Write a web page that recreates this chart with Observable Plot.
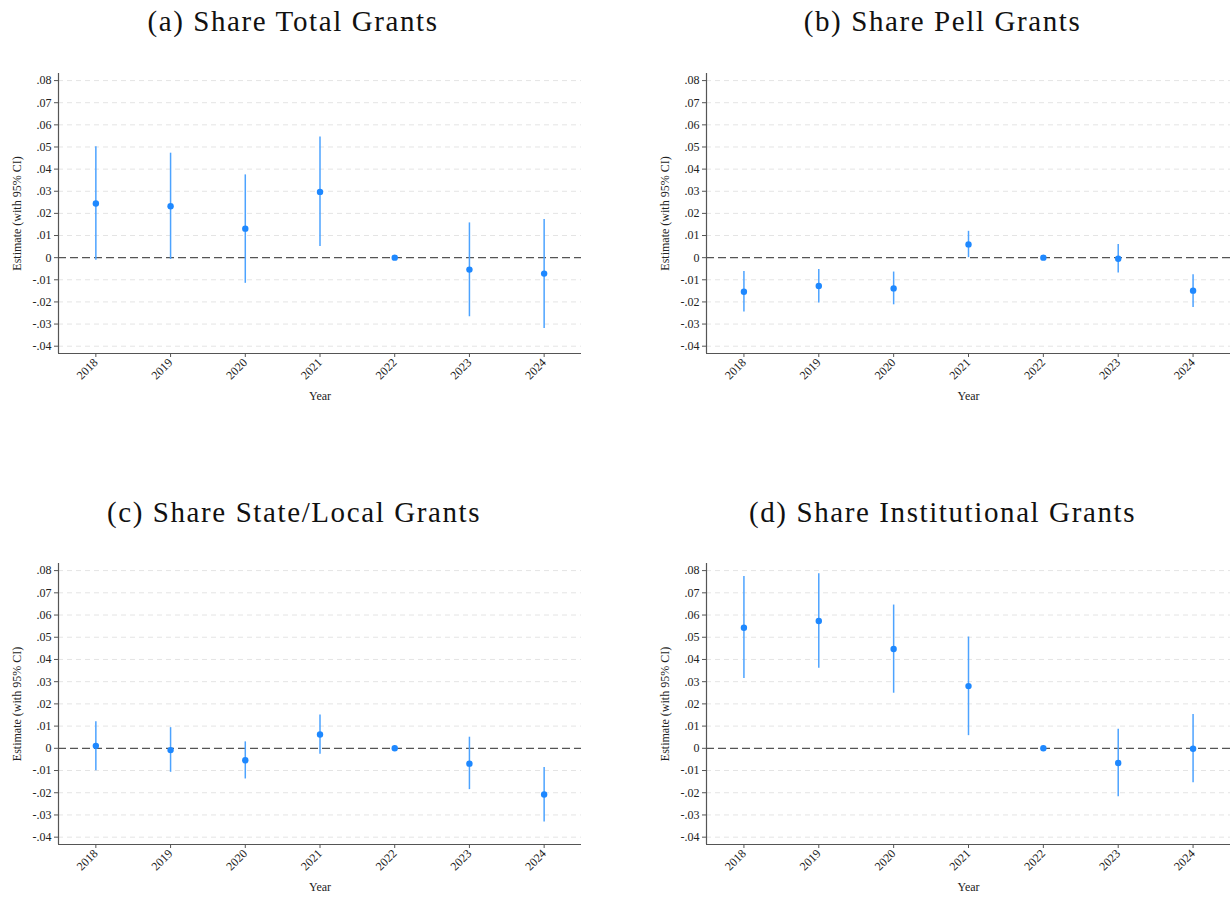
<!DOCTYPE html>
<html>
<head>
<meta charset="utf-8">
<script src="https://cdn.jsdelivr.net/npm/d3@7"></script>
<script src="https://cdn.jsdelivr.net/npm/@observablehq/plot@0.6"></script>
<style>
  html, body { margin: 0; padding: 0; background: #fff; }
  #root { position: relative; width: 1231px; height: 899px; overflow: hidden; background: #fff; }
  .panel { position: absolute; }
  .title { position: absolute; transform: translateX(-50%); white-space: nowrap;
           font-family: "Liberation Serif", serif; font-size: 29px; letter-spacing: 1.6px; color: #111; line-height: 1; }
</style>
</head>
<body>
<div id="root"></div>
<script>
// ---- data ----
const years = [2018, 2019, 2020, 2021, 2022, 2023, 2024];
const yTicks = [-0.04, -0.03, -0.02, -0.01, 0, 0.01, 0.02, 0.03, 0.04, 0.05, 0.06, 0.07, 0.08];
const yTickLabels = ["-.04", "-.03", "-.02", "-.01", "0", ".01", ".02", ".03", ".04", ".05", ".06", ".07", ".08"];
const panelTitles = ["(a) Share Total Grants", "(b) Share Pell Grants", "(c) Share State/Local Grants", "(d) Share Institutional Grants"];

const totalEst = [0.0245, 0.0232, 0.0131, 0.0297, 0, -0.0054, -0.0072];
const totalLo  = [-0.0012, -0.0008, -0.0116, 0.0050, null, -0.0267, -0.0320];
const totalHi  = [0.0501, 0.0472, 0.0374, 0.0545, null, 0.0157, 0.0172];

const pellEst = [-0.0154, -0.0128, -0.0139, 0.0060, 0, -0.0005, -0.0149];
const pellLo  = [-0.0246, -0.0205, -0.0213, 0.0000, null, -0.0069, -0.0225];
const pellHi  = [-0.0062, -0.0053, -0.0065, 0.0119, null, 0.0059, -0.0077];

const stateEst = [0.0011, -0.0008, -0.0054, 0.0062, 0, -0.0069, -0.0208];
const stateLo  = [-0.0101, -0.0108, -0.0138, -0.0027, null, -0.0186, -0.0332];
const stateHi  = [0.0120, 0.0093, 0.0029, 0.0150, null, 0.0050, -0.0086];

const instEst = [0.0543, 0.0573, 0.0447, 0.0280, 0, -0.0066, -0.0002];
const instLo  = [0.0314, 0.0361, 0.0248, 0.0057, null, -0.0218, -0.0155];
const instHi  = [0.0773, 0.0786, 0.0645, 0.0501, null, 0.0086, 0.0152];

const series = [
  [totalEst, totalLo, totalHi],
  [pellEst, pellLo, pellHi],
  [stateEst, stateLo, stateHi],
  [instEst, instLo, instHi]
];

// ---- layout ----
const xDomain = [2017.5, 2024.5];
const yDomain = [-0.0433, 0.0832];
const layouts = [
  {left: 0,   top: 60,  width: 600, height: 350, ml: 58, mr: 19, mt: 13, mb: 57, tx: 293, ty: 7},
  {left: 630, top: 60,  width: 601, height: 350, ml: 76, mr: 1,  mt: 13, mb: 57, tx: 942.5, ty: 7},
  {left: 0,   top: 550, width: 600, height: 349, ml: 58, mr: 19, mt: 13, mb: 55, tx: 294, ty: 498},
  {left: 630, top: 550, width: 601, height: 349, ml: 76, mr: 1,  mt: 13, mb: 55, tx: 942.5, ty: 498}
];

const root = document.getElementById("root");
const labelMap = new Map(yTicks.map((t, i) => [t, yTickLabels[i]]));

series.forEach(([est, lo, hi], i) => {
  const L = layouts[i];
  const data = years.map((yr, j) => ({year: yr, est: est[j], lo: lo[j], hi: hi[j]}));
  const ci = data.filter(d => d.lo != null);
  const chart = Plot.plot({
    width: L.width, height: L.height,
    marginLeft: L.ml, marginRight: L.mr, marginTop: L.mt, marginBottom: L.mb,
    style: {fontFamily: "'Liberation Serif', serif", fontSize: "12px", color: "#222", background: "transparent"},
    x: {domain: xDomain},
    y: {domain: yDomain},
    marks: [
      Plot.ruleY(yTicks.filter(t => t !== 0), {stroke: "#e4e4e4", strokeWidth: 1, strokeDasharray: "5,4"}),
      Plot.ruleY([0], {stroke: "#555", strokeWidth: 1.2, strokeDasharray: "8,4"}),
      Plot.ruleX(ci, {x: "year", y1: "lo", y2: "hi", stroke: "#4da3ff", strokeWidth: 1.5}),
      Plot.dot(data, {x: "year", y: "est", r: 3.2, fill: "#1e88ff", stroke: "none"}),
      Plot.ruleX([xDomain[0]], {stroke: "#555", strokeWidth: 1.2}),
      Plot.ruleY([yDomain[0]], {stroke: "#555", strokeWidth: 1.2}),
      Plot.axisY({ticks: yTicks, tickFormat: d => labelMap.get(d), tickSize: 4, tickPadding: 3, stroke: "#555",
                  label: "Estimate (with 95% CI)", labelAnchor: "center", labelArrow: "none", labelOffset: 46}),
      Plot.axisX({ticks: years, tickFormat: d => String(d), tickSize: 4, tickPadding: 3, tickRotate: -45, stroke: "#555",
                  label: "Year", labelAnchor: "center", labelArrow: "none", labelOffset: 46})
    ]
  });
  chart.classList.add("panel");
  chart.style.left = L.left + "px";
  chart.style.top = L.top + "px";
  root.appendChild(chart);

  const t = document.createElement("div");
  t.className = "title";
  t.textContent = panelTitles[i];
  t.style.left = L.tx + "px";
  t.style.top = L.ty + "px";
  root.appendChild(t);
});
</script>
</body>
</html>
